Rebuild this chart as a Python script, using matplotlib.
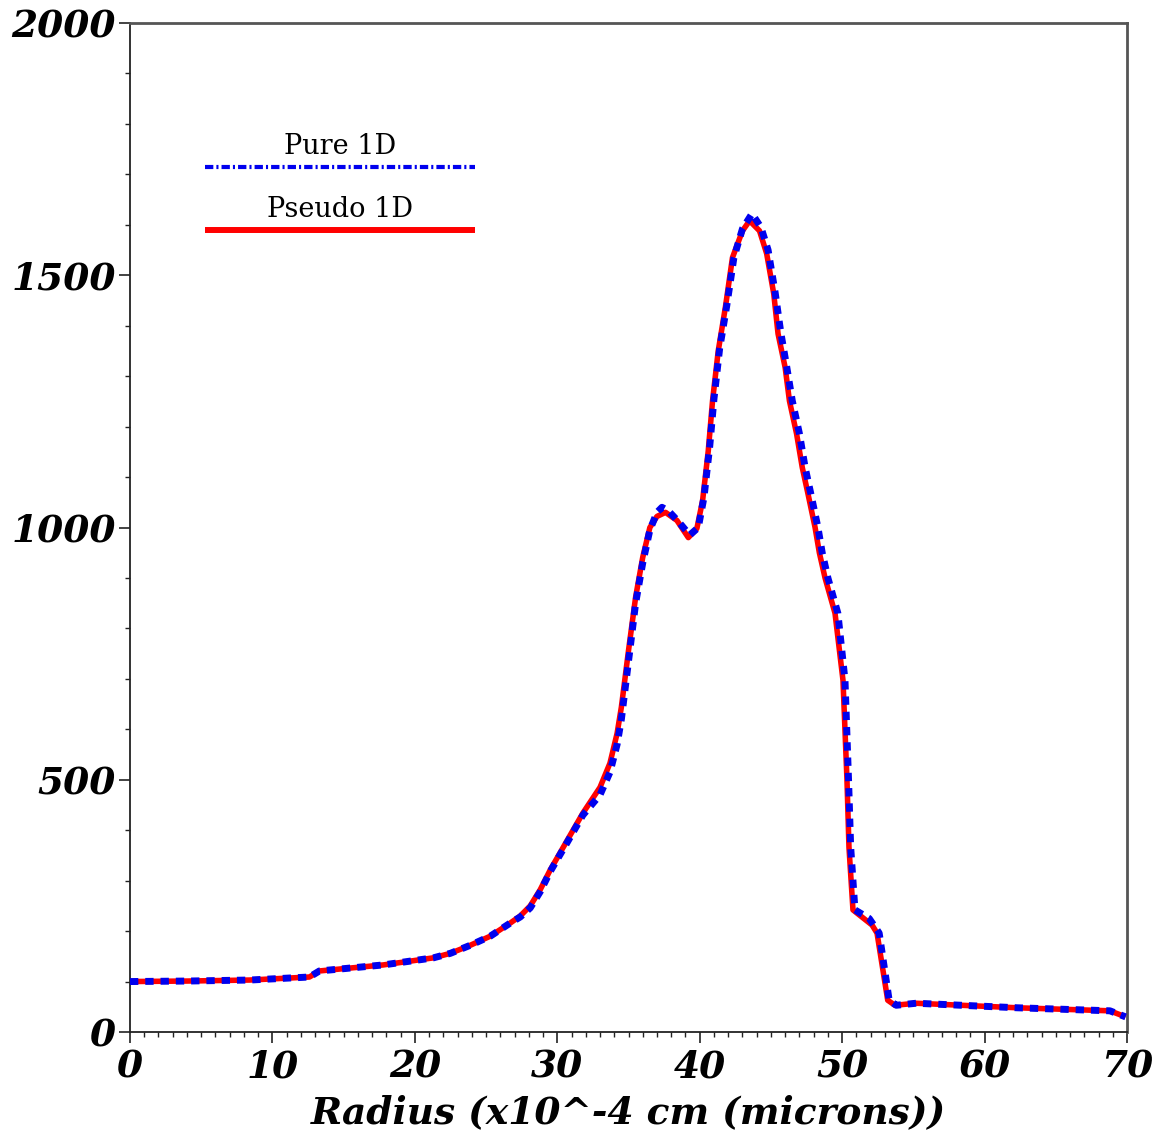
import matplotlib
matplotlib.use("Agg")
import matplotlib.pyplot as plt
from matplotlib.ticker import MultipleLocator
from matplotlib.lines import Line2D

# ---- data ----
pseudo_x = [0, 4, 8.4, 12.6, 13.3, 17.8, 21.3, 22.5, 23.9, 25.3, 26.7, 27.4, 28.1, 28.8, 29.5, 30.7, 31.8,
            33.0, 33.7, 34.2, 34.5, 35.0, 35.5, 36.0, 36.5, 37.0, 37.6, 38.4, 39.2, 39.8, 40.2,
            40.6, 40.9, 41.3, 41.8, 42.3, 43.0, 43.5, 44.2, 44.7, 45.2, 45.5, 46.0, 46.3, 46.8,
            47.2, 47.6, 48.1, 48.4, 48.8, 49.5, 50.06, 50.34, 50.48, 50.76, 52.1, 52.45, 53.2,
            53.7, 55.2, 62.3, 68.8, 69.9]
pseudo_y = [100, 101, 103, 109, 121, 133, 147, 156, 172, 190, 216, 230, 250, 282, 321, 380, 434,
            485, 533, 592, 644, 756, 862, 941, 1000, 1022, 1030, 1014, 980, 998, 1053,
            1152, 1251, 1350, 1436, 1535, 1588, 1608, 1588, 1543, 1463, 1384, 1317, 1251, 1186,
            1119, 1067, 1000, 950, 900, 830, 697, 499, 366, 242, 212, 196, 63,
            53, 57, 48, 42, 30]

pure_x = [0, 4, 8.4, 12.6, 13.3, 17.8, 21.3, 22.5, 23.9, 25.3, 26.7, 27.4, 28.1, 28.8, 29.5, 30.7, 31.8,
          33.0, 33.7, 34.2, 34.5, 35.0, 35.5, 36.0, 36.5, 37.0, 37.35, 37.8, 38.5, 39.3, 39.9,
          40.3, 40.7, 41.0, 41.4, 41.9, 42.4, 43.0, 43.67, 44.3, 44.8, 45.3, 45.7, 46.1, 46.5,
          47.0, 47.4, 47.8, 48.3, 48.6, 49.0, 49.7, 50.2, 50.45, 50.6, 50.9, 51.9, 52.6, 53.3,
          53.8, 55.2, 62.3, 68.8, 69.9]
pure_y = [100, 101, 103, 109, 121, 133, 147, 156, 172, 190, 216, 228, 246, 278, 318, 376, 430,
          470, 515, 570, 620, 735, 850, 930, 995, 1030, 1040, 1033, 1012, 985, 1000,
          1060, 1160, 1255, 1355, 1440, 1535, 1592, 1622, 1595, 1550, 1465, 1385, 1320, 1251,
          1186, 1119, 1067, 1000, 950, 900, 830, 697, 499, 366, 242, 225, 196, 63,
          53, 57, 48, 42, 30]

series_labels = ["Pure 1D", "Pseudo 1D"]
x_label = "Radius (x10^-4 cm (microns))"

plt.rcParams['lines.scale_dashes'] = False

fig = plt.figure(figsize=(11.59, 11.34), dpi=100)
ax = fig.add_axes([130/1159, (1134-1032)/1134, (1127-130)/1159, (1032-23)/1134])

ax.plot(pseudo_x, pseudo_y, color='#ff0000', lw=4.0, solid_capstyle='butt', zorder=3)
ax.plot(pure_x, pure_y, color='#0000ee', lw=5.0, dashes=(6.0, 5.0), dash_capstyle='butt', zorder=4)

ax.set_xlim(0, 70)
ax.set_ylim(0, 2000)
ax.xaxis.set_major_locator(MultipleLocator(10))
ax.xaxis.set_minor_locator(MultipleLocator(1))
ax.yaxis.set_major_locator(MultipleLocator(500))
ax.yaxis.set_minor_locator(MultipleLocator(100))
ax.tick_params(axis='both', which='major', direction='out', length=8, width=1.2, color='#222222')
ax.tick_params(axis='x', which='major', pad=4)
ax.tick_params(axis='y', which='major', pad=2)
ax.tick_params(axis='both', which='minor', direction='out', length=3.8, width=1.0, color='#222222')

tick_font = dict(family='DejaVu Serif', weight='bold', style='italic', size=27)
for lab in ax.get_xticklabels() + ax.get_yticklabels():
    lab.set_fontfamily('DejaVu Serif')
    lab.set_fontweight('bold')
    lab.set_fontstyle('italic')
    lab.set_fontsize(27)

ax.set_xlabel(x_label, fontdict=tick_font, labelpad=6)

for side in ['left', 'bottom']:
    ax.spines[side].set_color('#222222')
    ax.spines[side].set_linewidth(1.3)
for side in ['top', 'right']:
    ax.spines[side].set_color('#555555')
    ax.spines[side].set_linewidth(2.0)

# legend (manual, text centred above sample line)
lx0, lx1 = 75/997, 345/997
ax.add_line(Line2D([lx0, lx1], [0.857, 0.857], transform=ax.transAxes, color='#0000ee', lw=3.0,
                   dashes=(6.0, 2.2, 1.5, 2.2), dash_capstyle='butt', clip_on=False))
ax.add_line(Line2D([lx0, lx1], [0.795, 0.795], transform=ax.transAxes, color='#ff0000', lw=4.3,
                   solid_capstyle='butt', clip_on=False))
ax.text((lx0+lx1)/2, 0.864, series_labels[0], transform=ax.transAxes, ha='center', va='bottom',
        family='DejaVu Serif', size=19.5)
ax.text((lx0+lx1)/2, 0.802, series_labels[1], transform=ax.transAxes, ha='center', va='bottom',
        family='DejaVu Serif', size=19.5)

fig.savefig('out.png', dpi=100, facecolor='white')
